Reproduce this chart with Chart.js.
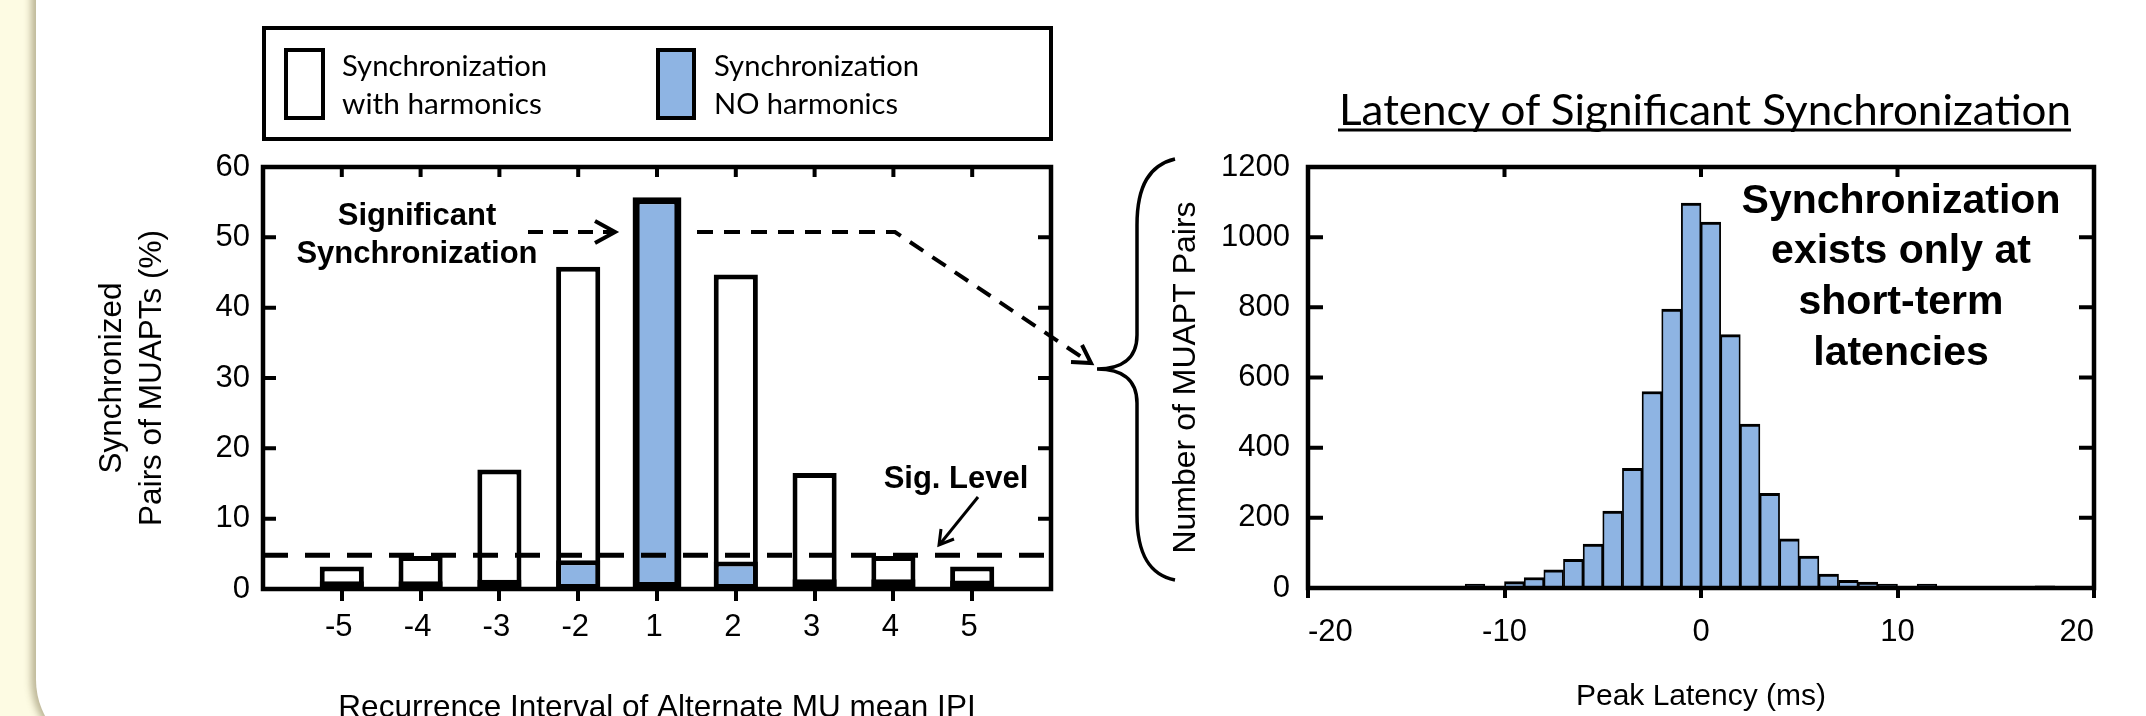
<!DOCTYPE html>
<html>
<head>
<meta charset="utf-8">
<title>MU synchronization</title>
<script src="https://cdn.jsdelivr.net/npm/chart.js@4.4.1/dist/chart.umd.min.js"></script>
<style>
  body { margin: 0; width: 2146px; height: 716px; overflow: hidden; background: #fdfbe3; position: relative; }
  #panel { position: absolute; left: 36px; top: -100px; width: 2300px; height: 856px; background: #fff;
           border-radius: 76px; box-shadow: -5px 0 7px rgba(110, 100, 60, 0.45); }
  .box { position: absolute; top: 0; }
  .box canvas { display: block; }
  #overlay { position: absolute; left: 0; top: 0; pointer-events: none; }
</style>
</head>
<body>
<div id="panel"></div>
<div class="box" style="left:0"><canvas id="syncChart" width="1090" height="740"></canvas></div>
<div class="box" style="left:1090px"><canvas id="latencyChart" width="1056" height="740"></canvas></div>

<svg id="overlay" width="2146" height="716">
  <!-- legend -->
  <g fill="none" stroke="#000" stroke-width="4">
    <rect x="264" y="28" width="787" height="111"/>
    <rect x="286" y="50" width="37" height="68" fill="#fff"/>
    <rect x="658" y="50" width="36" height="68" fill="#8eb4e3"/>
  </g>
  <g font-family="Lato, 'Open Sans', sans-serif" font-size="28" fill="#000">
    <text x="342" y="76" textLength="205" lengthAdjust="spacingAndGlyphs">Synchronization</text>
    <text x="342" y="114" textLength="200" lengthAdjust="spacingAndGlyphs">with harmonics</text>
    <text x="714" y="76" textLength="205" lengthAdjust="spacingAndGlyphs">Synchronization</text>
    <text x="714" y="114" textLength="184" lengthAdjust="spacingAndGlyphs">NO harmonics</text>
    <text x="1339" y="125" font-size="42" textLength="732" lengthAdjust="spacingAndGlyphs">Latency of Significant Synchronization</text>
  </g>
  <line x1="1338" y1="130" x2="2071" y2="130" stroke="#000" stroke-width="3"/>

  <!-- annotations -->
  <g font-family="'Liberation Sans', Arial, sans-serif" font-weight="bold" text-anchor="middle" fill="#000">
    <text x="417" y="225" font-size="31">Significant</text>
    <text x="417" y="263" font-size="31">Synchronization</text>
    <text x="956" y="488" font-size="31">Sig. Level</text>
    <text x="1901" y="213" font-size="41">Synchronization</text>
    <text x="1901" y="263" font-size="41">exists only at</text>
    <text x="1901" y="314" font-size="41">short-term</text>
    <text x="1901" y="365" font-size="41">latencies</text>
  </g>
  <g fill="none" stroke="#000" stroke-width="4">
    <line x1="528" y1="232" x2="612" y2="232" stroke-dasharray="15 10"/>
    <polyline points="595,221 615,232 595,243"/>
    <polyline points="697,232 895,232 1089,362" stroke-dasharray="16 11"/>
    <polyline points="1082,345 1091,363 1071,362"/>
    <line x1="978" y1="497" x2="940" y2="544" stroke-width="3"/>
    <polyline points="954,539 939,545 941,529" stroke-width="3"/>
    <path d="M1175,159 C1150,165 1137,185 1137,225 L1137,335 C1137,360 1120,369 1097,369 C1120,369 1137,378 1137,403 L1137,515 C1137,555 1150,575 1175,580" stroke-width="3.5"/>
  </g>
</svg>

<script>
// left panel: synchronized pairs by recurrence interval
const intervals = ['-5', '-4', '-3', '-2', '1', '2', '3', '4', '5'];
const withHarmonics = [3.2, 4.7, 17.0, 45.8, 55.5, 44.7, 16.5, 4.7, 3.2];
const noHarmonics = [1.1, 1.1, 1.3, 4.1, 55.7, 3.9, 1.4, 1.4, 1.2];
const sigLevel = 4.8;

// right panel: histogram of peak latency (1 ms bins)
const latencyBinStart = [-20, -19, -18, -17, -16, -15, -14, -13, -12, -11,
                         -10, -9, -8, -7, -6, -5, -4, -3, -2, -1,
                         0, 1, 2, 3, 4, 5, 6, 7, 8, 9,
                         10, 11, 12, 13, 14, 15, 16, 17, 18, 19];
const pairCounts = [0, 0, 0, 0, 3, 3, 3, 3, 11, 5,
                    18, 30, 52, 82, 125, 219, 341, 560, 795, 1097,
                    1043, 722, 467, 270, 140, 91, 40, 22, 17, 11,
                    4, 11, 3, 3, 3, 3, 1, 6, 0, 0];

const BLUE = '#8eb4e3';
Chart.defaults.font.family = "'Liberation Sans', Arial, sans-serif";
Chart.defaults.color = '#000';

// box round the plot area, with inward tick marks on top, left and right
const frameTicks = {
  id: 'frameTicks',
  afterDatasetsDraw(chart, args, opts) {
    const {ctx, chartArea: a, scales: {x, y}} = chart;
    ctx.save();
    ctx.strokeStyle = '#000';
    ctx.lineWidth = 4;
    ctx.beginPath();
    for (let i = 1; i < x.ticks.length - 1; i++) {
      const px = x.getPixelForTick(i);
      ctx.moveTo(px, a.top);
      ctx.lineTo(px, a.top + opts.topLen);
    }
    for (let i = 1; i < y.ticks.length - 1; i++) {
      const py = y.getPixelForTick(i);
      ctx.moveTo(a.left, py);
      ctx.lineTo(a.left + opts.sideLen, py);
      ctx.moveTo(a.right, py);
      ctx.lineTo(a.right - opts.sideLen, py);
    }
    ctx.stroke();
    ctx.lineWidth = 4.5;
    ctx.strokeRect(a.left, a.top, a.right - a.left, a.bottom - a.top);
    ctx.restore();
  }
};

const syncLabels = ['', ...intervals, ''];
const pad = arr => [null, ...arr, null];
const peakIndex = intervals.indexOf('1');

new Chart(document.getElementById('syncChart'), {
  type: 'bar',
  data: {
    labels: syncLabels,
    datasets: [
      {
        type: 'line', label: 'Sig. Level', data: syncLabels.map(() => sigLevel),
        borderColor: '#000', borderWidth: 5, borderDash: [25, 17], pointRadius: 0, fill: false, order: 0
      },
      {
        label: 'Synchronization NO harmonics', data: pad(noHarmonics.map((v, i) => i === peakIndex ? v : null)),
        backgroundColor: BLUE, borderColor: '#000', borderWidth: 7, borderSkipped: false, barPercentage: 0.62, order: 1
      },
      {
        label: 'Synchronization NO harmonics', data: pad(noHarmonics.map((v, i) => i === peakIndex ? null : v)),
        backgroundColor: BLUE, borderColor: '#000', borderWidth: 5, borderSkipped: false, barPercentage: 0.56, order: 2
      },
      {
        label: 'Synchronization with harmonics', data: pad(withHarmonics),
        backgroundColor: '#fff', borderColor: '#000', borderWidth: 5, borderSkipped: false, barPercentage: 0.56, order: 3
      }
    ]
  },
  options: {
    responsive: false,
    animation: false,
    events: [],
    layout: { padding: { left: 0, top: 167, right: 39, bottom: 0 } },
    datasets: { bar: { grouped: false, categoryPercentage: 1 } },
    plugins: {
      legend: { display: false },
      tooltip: { enabled: false },
      frameTicks: { topLen: 10, sideLen: 13 }
    },
    scales: {
      x: {
        offset: false,
        grid: {
          offset: false, drawOnChartArea: false, drawTicks: true, tickLength: 12, lineWidth: 4, tickWidth: 4,
          tickColor: c => (c.index === 0 || c.index === syncLabels.length - 1) ? 'rgba(0,0,0,0)' : '#000'
        },
        border: { display: false },
        ticks: { autoSkip: false, maxRotation: 0, padding: 8, labelOffset: -3, font: { size: 31 } },
        title: {
          display: true, text: 'Recurrence Interval of Alternate MU mean IPI',
          font: { size: 31.5 }, padding: { top: 0, bottom: 13 }
        },
        afterFit: s => { s.height = 151; }
      },
      y: {
        min: 0, max: 60,
        ticks: { stepSize: 10, padding: 13, font: { size: 31 }, callback: v => String(v) },
        grid: { display: false, drawTicks: false },
        border: { display: false },
        title: {
          display: true, text: ['Synchronized', 'Pairs of MUAPTs (%)'],
          font: { size: 31.5, lineHeight: 1.25 }, padding: { top: 93, bottom: 0 }
        },
        afterFit: s => { s.width = 263; }
      }
    }
  },
  plugins: [frameTicks]
});

new Chart(document.getElementById('latencyChart'), {
  type: 'bar',
  data: {
    datasets: [{
      label: 'Number of MUAPT Pairs',
      data: latencyBinStart.map((s, i) => ({ x: s + 0.5, y: pairCounts[i] })),
      backgroundColor: BLUE,
      borderColor: '#000',
      borderWidth: { top: 3, left: 1.8, right: 1.8, bottom: 0 },
      barPercentage: 1,
      categoryPercentage: 1
    }]
  },
  options: {
    responsive: false,
    animation: false,
    events: [],
    layout: { padding: { left: 0, top: 167, right: 52, bottom: 0 } },
    plugins: {
      legend: { display: false },
      tooltip: { enabled: false },
      frameTicks: { topLen: 10, sideLen: 15 }
    },
    scales: {
      x: {
        type: 'linear', min: -20, max: 20, offset: false,
        grid: { offset: false, drawOnChartArea: false, drawTicks: true, tickLength: 10, lineWidth: 4, color: '#000' },
        border: { display: false },
        ticks: { stepSize: 10, align: 'inner', padding: 16, font: { size: 31 } },
        title: { display: true, text: 'Peak Latency (ms)', font: { size: 30 }, padding: { top: 0, bottom: 25 } },
        afterFit: s => { s.height = 152; }
      },
      y: {
        min: 0, max: 1200,
        ticks: { stepSize: 200, padding: 18, font: { size: 31 }, callback: v => String(v) },
        grid: { display: false, drawTicks: false },
        border: { display: false },
        title: { display: true, text: 'Number of MUAPT Pairs', font: { size: 32 }, padding: { top: 77, bottom: 0 } },
        afterFit: s => { s.width = 218; }
      }
    }
  },
  plugins: [frameTicks]
});
</script>
</body>
</html>
